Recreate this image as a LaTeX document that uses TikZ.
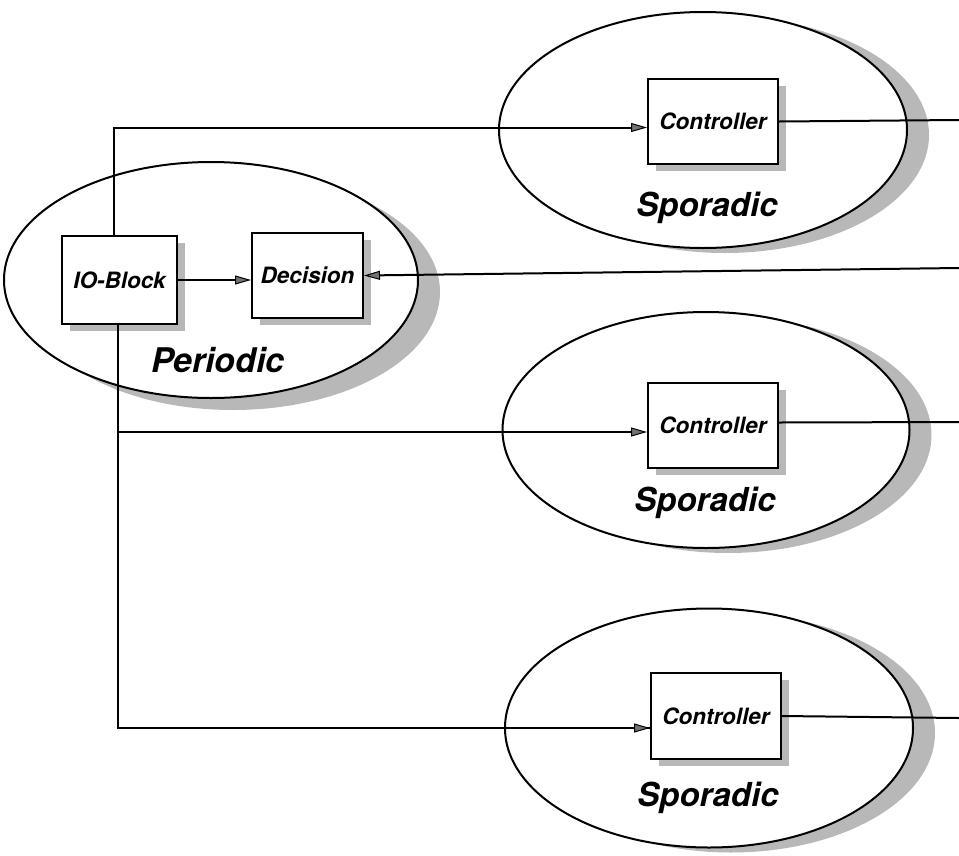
\documentclass[tikz,border=0pt]{standalone}
\usepackage{fontspec}
\setmainfont{TeX Gyre Heros}
\usetikzlibrary{shapes.geometric,shadows,arrows.meta}
\tikzset{
  line/.style={line width=2pt},
  arr/.style={line, -{Triangle[length=16pt,width=9pt,fill=black!55,line width=1pt]}},
  blob/.style={ellipse, draw, line width=2pt, fill=white, inner sep=0pt},
  box/.style={rectangle, draw, line width=2pt, fill=white, inner sep=0pt,
    font=\fontsize{22.5}{24}\selectfont\bfseries\itshape,
    general shadow={shadow xshift=8pt, shadow yshift=-7pt, fill=black!28}},
  kind/.style={inner sep=0pt, font=\fontsize{33}{36}\selectfont\bfseries\itshape},
}
\begin{document}
\begin{tikzpicture}[x=1pt,y=-1pt]
\useasboundingbox (0,0) rectangle (959,855);
% ellipses
\node[blob, minimum width=414pt, minimum height=236pt,
  general shadow={shadow xshift=22pt, shadow yshift=-12pt, fill=black!28}] (per) at (211,280) {};
\node[blob, minimum width=408pt, minimum height=236pt,
  general shadow={shadow xshift=22pt, shadow yshift=-5pt, fill=black!28}] (sp1) at (703,130) {};
\node[blob, minimum width=407pt, minimum height=236pt,
  general shadow={shadow xshift=22pt, shadow yshift=-5pt, fill=black!28}] (sp2) at (706,430) {};
\node[blob, minimum width=408pt, minimum height=239pt,
  general shadow={shadow xshift=22pt, shadow yshift=-5pt, fill=black!28}] (sp3) at (709,728) {};
% boxes
\node[box, minimum width=115pt, minimum height=88pt] (io) at (119.5,280) {IO-Block};
\node[box, minimum width=111pt, minimum height=85pt] (dec) at (307.5,275.5) {Decision};
\node[box, minimum width=130pt, minimum height=85pt] (c1) at (713,121.5) {Controller};
\node[box, minimum width=130pt, minimum height=85pt] (c2) at (713,425.5) {Controller};
\node[box, minimum width=130pt, minimum height=86pt] (c3) at (716,716) {Controller};
% labels
\node[kind, font=\fontsize{34}{36}\selectfont\bfseries\itshape] (perl) at (218,360) {Periodic};
\node[kind] (sp1l) at (707,208) {Sporadic};
\node[kind] (sp2l) at (705,503) {Sporadic};
\node[kind] (sp3l) at (708,798) {Sporadic};
% free ends
\coordinate (o1) at (959,120);
\coordinate (o2) at (959,422);
\coordinate (o3) at (959,718);
\coordinate (din) at (959,268);
\coordinate (j2) at (118,432);
% connectors
\draw[arr] ([xshift=-5.5pt]io.north) |- ([yshift=-6pt]c1.west);
\draw[line] ([xshift=-1.5pt]io.south) |- ([yshift=-12pt]c3.west);
\draw[arr] (j2) -- (j2 -| c2.west);
\draw[arr] (io.east) -- (io.east -| dec.west);
\draw[arr] ([yshift=-12pt]c3.west) ++(-10pt,0) -- ([yshift=-12pt]c3.west);
\draw[arr] (din) -- (dec.east);
\draw[line] (c1.east) -- (o1);
\draw[line] ([yshift=3pt]c2.east) -- (o2);
\draw[line] (c3.east) -- (o3);
\end{tikzpicture}
\end{document}
